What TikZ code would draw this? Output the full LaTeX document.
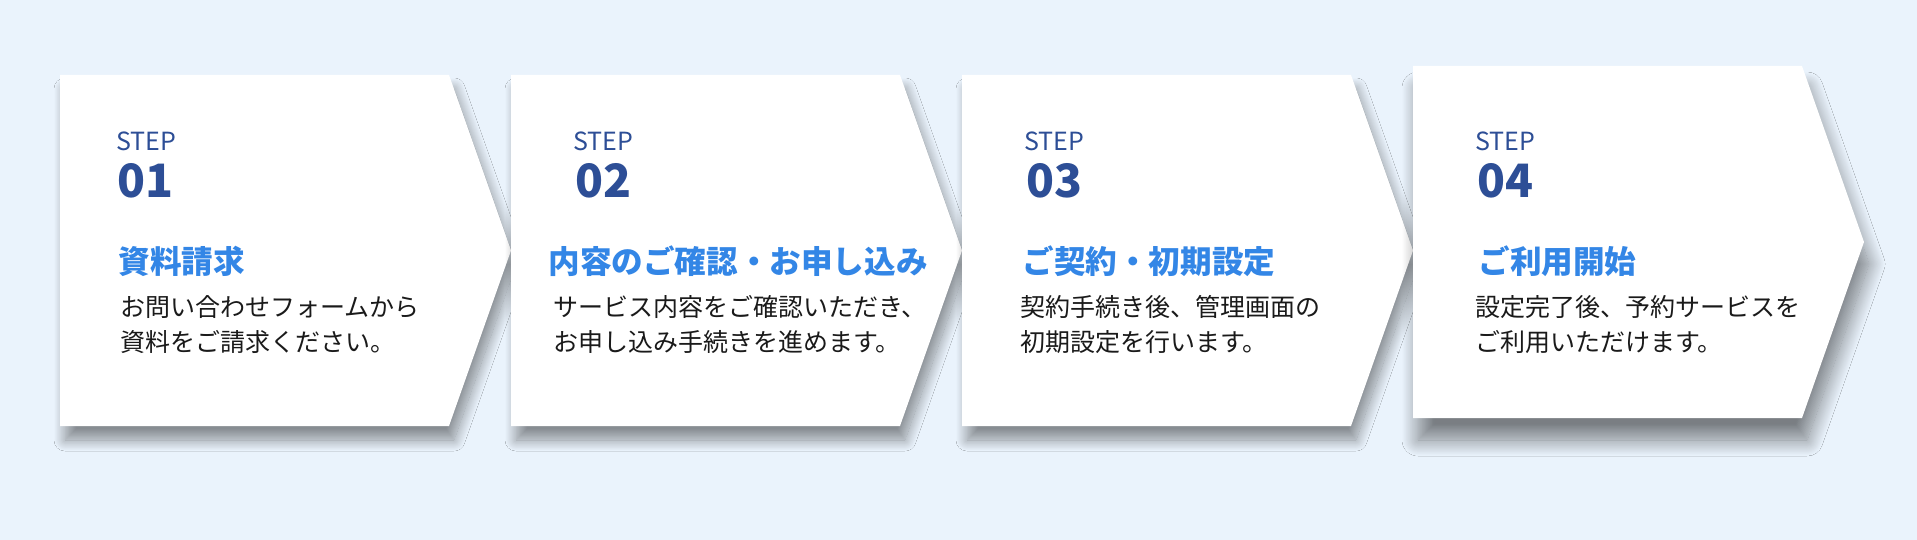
\documentclass[tikz,border=0pt]{standalone}
\usepackage{fontspec}
\setmainfont{Noto Sans CJK JP}
\usepackage{tikz}
\usetikzlibrary{calc,positioning,shadows.blur}
\definecolor{pagebg}{HTML}{EAF3FC}
\definecolor{stepblue}{HTML}{2D4E96}
\definecolor{titleblue}{HTML}{3386E6}
\definecolor{bodyink}{HTML}{1A1A1A}

\begin{document}
\begin{tikzpicture}[x=0.5pt, y=-0.5pt,
  every node/.style={inner sep=0pt, anchor=base west},
  card/.style={fill=white, blur shadow={shadow xshift=2.5pt, shadow yshift=-7pt, shadow blur radius=5.5pt, shadow opacity=42, shadow blur steps=24, shadow blur extra rounding=0pt}},
  cardup/.style={fill=white, blur shadow={shadow xshift=2.5pt, shadow yshift=-11pt, shadow blur radius=8pt, shadow opacity=48, shadow blur steps=24, shadow blur extra rounding=0pt}},
  steplabel/.style={text=stepblue, font=\fontsize{12.5}{14}\selectfont},
  stepnum/.style={text=stepblue, font=\fontsize{23}{26}\selectfont\bfseries},
  steptitle/.style={text=titleblue, font=\fontsize{15.8}{18}\selectfont\bfseries},
  stepbody/.style={text=bodyink, align=left, font=\fontsize{12.5}{17.5}\selectfont}]
  \fill[pagebg] (0,0) rectangle (1917,540);
  \useasboundingbox (0,0) rectangle (1917,540);
  % cards
  \fill[card] (60,75) -- (449,75) -- (511,250.5) -- (449,426) -- (60,426) -- cycle;
  \fill[card] (511,75) -- (900,75) -- (962,250.5) -- (900,426) -- (511,426) -- cycle;
  \fill[card] (962,75) -- (1351,75) -- (1413,250.5) -- (1351,426) -- (962,426) -- cycle;
  \fill[cardup] (1413,66) -- (1802,66) -- (1864,242) -- (1802,418) -- (1413,418) -- cycle;
  % step 01
  \node[steplabel] (s1) at (116,150) {STEP};
  \node[stepnum] (n1) at (117,198) {01};
  \node[steptitle] (t1) at (118,273) {資料請求};
  \node[stepbody] (b1) at (120,351) {お問い合わせフォームから\\資料をご請求ください。};
  % step 02
  \node[steplabel] (s2) at (573,150) {STEP};
  \node[stepnum] (n2) at (575,198) {02};
  \node[steptitle] (t2) at (548,273) {内容のご確認・お申し込み};
  \node[stepbody] (b2) at (553,351) {サービス内容をご確認いただき、\\お申し込み手続きを進めます。};
  % step 03
  \node[steplabel] (s3) at (1024,150) {STEP};
  \node[stepnum] (n3) at (1026,198) {03};
  \node[steptitle] (t3) at (1022,273) {ご契約・初期設定};
  \node[stepbody] (b3) at (1020,351) {契約手続き後、管理画面の\\初期設定を行います。};
  % step 04
  \node[steplabel] (s4) at (1475,150) {STEP};
  \node[stepnum] (n4) at (1477,198) {04};
  \node[steptitle] (t4) at (1478,273) {ご利用開始};
  \node[stepbody] (b4) at (1475,351) {設定完了後、予約サービスを\\ご利用いただけます。};
\end{tikzpicture}
\end{document}
